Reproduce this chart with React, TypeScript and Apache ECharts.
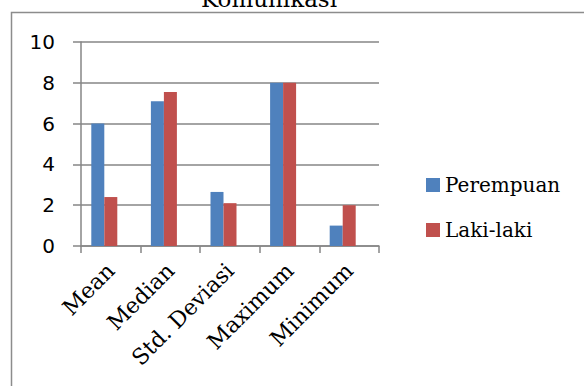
import React, { useEffect, useRef } from "react";
import * as echarts from "echarts";

const categories = ["Mean", "Median", "Std. Deviasi", "Maximum", "Minimum"];
const perempuan = [6.0, 7.1, 2.65, 8.0, 1.0];
const lakiLaki = [2.4, 7.55, 2.1, 8.0, 2.0];
const emptySeries = [null, null, null, null, null];
const yTicks = { min: 0, max: 10, interval: 2 };
const title = "Komunikasi";

export default function App() {
  const ref = useRef<HTMLDivElement>(null);
  useEffect(() => {
    if (!ref.current) return;
    const chart = echarts.init(ref.current, null, { renderer: "svg" });
    const gray = "#868686";
    chart.setOption({
      animation: false,
      backgroundColor: "#ffffff",
      grid: {
        left: 81,
        right: 205,
        top: 42,
        bottom: 140,
        containLabel: false,
        outerBoundsMode: "none",
      },
      legend: {
        data: ["Perempuan", "Laki-laki"],
        orient: "vertical",
        left: 421,
        top: 170,
        itemWidth: 14,
        itemHeight: 14,
        itemGap: 25,
        icon: "rect",
        textStyle: {
          fontFamily: "DejaVu Serif",
          fontSize: 20,
          lineHeight: 20,
          color: "#000",
        },
      },
      xAxis: {
        type: "category",
        data: categories,
        axisLine: { lineStyle: { color: gray, width: 1.5 } },
        axisTick: { show: true, length: 7, lineStyle: { color: gray, width: 1.5 } },
        axisLabel: {
          rotate: 45,
          margin: 21,
          interval: 0,
          fontFamily: "DejaVu Serif",
          fontSize: 22,
          color: "#000",
        },
        splitLine: { show: false },
      },
      yAxis: {
        type: "value",
        min: yTicks.min,
        max: yTicks.max,
        interval: yTicks.interval,
        axisLine: { show: true, lineStyle: { color: gray, width: 1.5 } },
        axisTick: { show: true, length: 8, lineStyle: { color: gray, width: 1.5 } },
        axisLabel: {
          margin: 26,
          fontFamily: "DejaVu Sans",
          fontSize: 20,
          color: "#000",
        },
        splitLine: { show: true, lineStyle: { color: gray, width: 1.5 } },
      },
      series: [
        {
          name: "Perempuan",
          type: "bar",
          data: perempuan,
          barWidth: 13,
          barGap: "0%",
          itemStyle: { color: "#4F81BD" },
        },
        {
          name: "Laki-laki",
          type: "bar",
          data: lakiLaki,
          barWidth: 13,
          barGap: "0%",
          itemStyle: { color: "#C0504D" },
        },
        {
          name: "hidden",
          type: "bar",
          data: emptySeries,
          barWidth: 13,
          barGap: "0%",
          itemStyle: { color: "transparent" },
        },
      ],
      graphic: [
        {
          type: "polyline",
          shape: {
            points: [
              [11.5, 400],
              [11.5, 12.5],
              [600, 12.5],
            ],
          },
          style: { stroke: "#8c8c8c", lineWidth: 1.5, fill: null },
          silent: true,
        },
        {
          type: "text",
          x: 269,
          y: 10,
          style: {
            text: title,
            fontFamily: "DejaVu Serif",
            fontSize: 23,
            fill: "#000",
            align: "center",
            verticalAlign: "bottom",
          },
          silent: true,
        },
      ],
    });
    return () => chart.dispose();
  }, []);
  return (
    <div
      ref={ref}
      style={{ position: "fixed", left: 0, top: 0, width: 584, height: 386 }}
    />
  );
}
